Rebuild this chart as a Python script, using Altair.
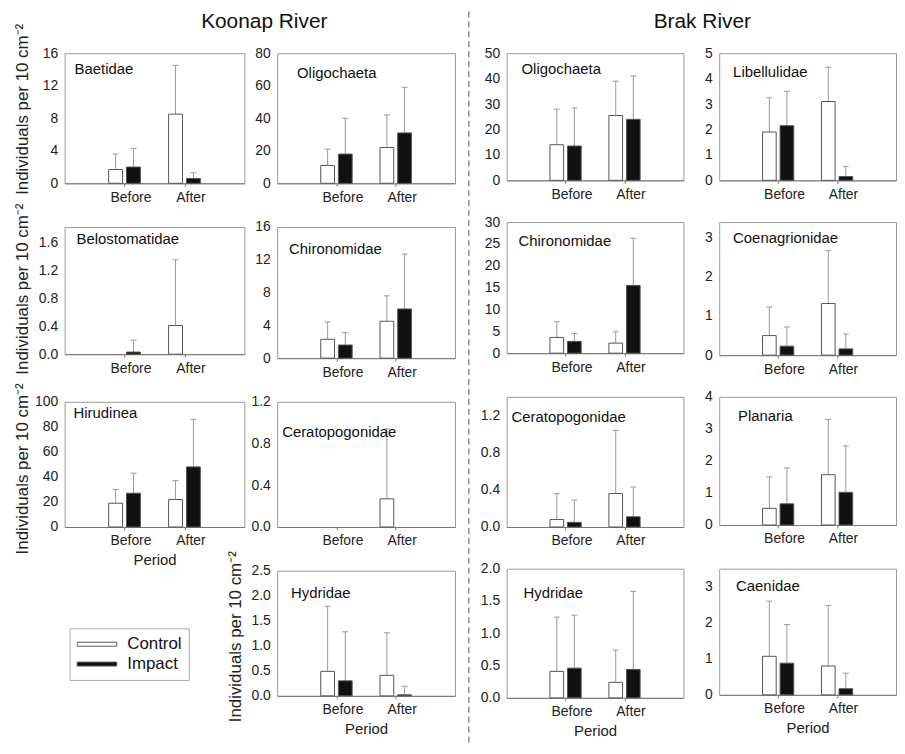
import altair as alt
import pandas as pd

# ---------------- data ----------------
TAXA = ["Baetidae", "Belostomatidae", "Hirudinea",
        "Oligochaeta", "Chironomidae", "Ceratopogonidae", "Hydridae",
        "Oligochaeta", "Chironomidae", "Ceratopogonidae", "Hydridae",
        "Libellulidae", "Coenagrionidae", "Planaria", "Caenidae"]
RIVER = ["Koonap"] * 7 + ["Brak"] * 8
PERIODS = ["Before", "After"]
GROUPS = ["Control", "Impact"]

CTRL_BEFORE     = [1.7, 0.0, 19, 11, 2.3, 0.0, 0.49, 14.0, 3.6, 0.08, 0.41, 1.90, 0.50, 0.52, 1.07]
CTRL_BEFORE_ERR = [3.6, 0.0, 30, 21, 4.4, 0.0, 1.79, 28.0, 7.2, 0.36, 1.25, 3.25, 1.23, 1.50, 2.60]
IMP_BEFORE      = [2.0, 0.03, 27, 18, 1.6, 0.0, 0.30, 13.5, 2.7, 0.05, 0.46, 2.15, 0.23, 0.66, 0.88]
IMP_BEFORE_ERR  = [4.3, 0.20, 43, 40, 3.1, 0.0, 1.28, 28.5, 4.5, 0.29, 1.28, 3.50, 0.72, 1.78, 1.95]
CTRL_AFTER      = [8.5, 0.41, 22, 22, 4.5, 0.27, 0.41, 25.5, 2.3, 0.36, 0.24, 3.10, 1.32, 1.57, 0.80]
CTRL_AFTER_ERR  = [14.5, 1.35, 37, 42, 7.6, 0.94, 1.26, 39.0, 4.9, 1.04, 0.74, 4.45, 2.67, 3.30, 2.48]
IMP_AFTER       = [0.6, 0.0, 48, 31, 6.0, 0.0, 0.02, 24.0, 15.5, 0.11, 0.44, 0.15, 0.16, 1.02, 0.17]
IMP_AFTER_ERR   = [1.3, 0.0, 86, 59, 12.7, 0.0, 0.19, 41.0, 26.3, 0.43, 1.65, 0.55, 0.54, 2.47, 0.60]

Y_MAX = [16, 1.82, 100, 80, 16, 1.2, 2.5, 50, 30, 1.4, 2.0, 5, 3.4, 4, 3.5]
Y_TICKS = [[0, 4, 8, 12, 16], [0, 0.4, 0.8, 1.2, 1.6], [0, 20, 40, 60, 80, 100],
           [0, 20, 40, 60, 80], [0, 4, 8, 12, 16], [0, 0.4, 0.8, 1.2], [0, 0.5, 1, 1.5, 2, 2.5],
           [0, 10, 20, 30, 40, 50], [0, 5, 10, 15, 20, 25, 30], [0, 0.4, 0.8, 1.2], [0, 0.5, 1, 1.5, 2],
           [0, 1, 2, 3, 4, 5], [0, 1, 2, 3], [0, 1, 2, 3, 4], [0, 1, 2, 3]]
Y_FMT = ["d", ".1f", "d", "d", "d", ".1f", ".1f", "d", "d", ".1f", ".1f", "d", "d", "d", "d"]

RIVER_TITLES = ["Koonap River", "Brak River"]
Y_TITLE = "Individuals per 10 cm\u207b\u00b2"
X_TITLE = "Period"

# ---------------- layout ----------------
FONT = "Liberation Sans"
PANEL_COL = [0, 0, 0, 1, 1, 1, 1, 2, 2, 2, 2, 3, 3, 3, 3]
PANEL_H = [131, 128, 126, 131, 132, 126, 126, 128, 132, 131, 130, 128, 134, 129, 127]
COL_W = [181, 179, 178, 178]
NAME_POS = [(10, 21), (12, 17), (9, 16), (20, 25), (12, 27), (5, 35), (14, 27),
            (15, 21), (12, 24), (5, 25), (17, 29), (14, 24), (14, 21), (19, 24), (17, 22)]
Y_TITLE_CY = {0: 56, 1: 62, 2: 67, 6: 66}
X_TITLE_PANELS = {2, 6, 10, 14}
LEGEND_PANEL = 2


def panel_frame(i):
    vals = {
        ("Before", "Control"): (CTRL_BEFORE[i], CTRL_BEFORE_ERR[i]),
        ("Before", "Impact"): (IMP_BEFORE[i], IMP_BEFORE_ERR[i]),
        ("After", "Control"): (CTRL_AFTER[i], CTRL_AFTER_ERR[i]),
        ("After", "Impact"): (IMP_AFTER[i], IMP_AFTER_ERR[i]),
    }
    rows = []
    for pi, period in enumerate(PERIODS):
        for gi, grp in enumerate(GROUPS):
            v, e = vals[(period, grp)]
            rows.append({"period": period, "group": grp, "slot": pi + 1,
                         "side": -1 if gi == 0 else 1, "value": v, "err": e})
    return pd.DataFrame(rows)


def make_panel(i):
    df = panel_frame(i)
    w = COL_W[PANEL_COL[i]]
    h = PANEL_H[i]
    xs = alt.Scale(domain=[0, 3], nice=False, zero=False)
    ys = alt.Scale(domain=[0, Y_MAX[i]], nice=False)
    xaxis = alt.Axis(values=[1, 2], labelExpr="datum.value == 1 ? 'Before' : 'After'",
                     grid=False, domain=True, domainColor="#777", ticks=True, tickSize=3,
                     tickColor="#777", labelFontSize=14, labelPadding=4, labelOffset=6,
                     labelFlush=False, titleFontSize=15, titlePadding=5,
                     titleFontWeight="normal")
    ykw = dict(values=Y_TICKS[i], format=Y_FMT[i], grid=False, domain=False, ticks=False,
               labelFontSize=14, labelPadding=7, titleFontSize=17,
               titleFontWeight="normal", titlePadding=3, minExtent=30, maxExtent=30)
    if i in Y_TITLE_CY:
        ykw["titleY"] = Y_TITLE_CY[i]
    yaxis = alt.Axis(**ykw)
    xt = X_TITLE if i in X_TITLE_PANELS else None
    yt = Y_TITLE if i in Y_TITLE_CY else None

    base = alt.Chart(df).transform_calculate(
        c="datum.slot + datum.side * 0.149",
        x0="datum.slot + datum.side * 0.149 - 0.116",
        x1="datum.slot + datum.side * 0.149 + 0.116",
        cap0="datum.slot + datum.side * 0.149 - 0.05",
        cap1="datum.slot + datum.side * 0.149 + 0.05",
        zero="0",
    )
    if i == LEGEND_PANEL:
        legend = alt.Legend(orient="none", legendX=5, legendY=228, title=None,
                            symbolType="M-1,-0.1H1V0.1H-1Z", symbolSize=1600,
                            symbolStrokeColor="#555", symbolStrokeWidth=1,
                            clipHeight=18, rowPadding=2, labelFontSize=17, labelFont=FONT,
                            labelColor="#111", labelOffset=10, strokeColor="#aaa",
                            padding=7)
    else:
        legend = None

    err = base.transform_filter("datum.err > datum.value").mark_rule(
        color="#999", strokeWidth=1).encode(
        x=alt.X("c:Q", scale=xs, axis=xaxis, title=xt),
        y=alt.Y("value:Q", scale=ys, axis=yaxis, title=yt),
        y2="err:Q",
    )
    caps = base.transform_filter("datum.err > datum.value").mark_rule(
        color="#999", strokeWidth=1).encode(
        x=alt.X("cap0:Q", scale=xs, axis=xaxis, title=xt),
        x2="cap1:Q",
        y=alt.Y("err:Q", scale=ys, axis=yaxis, title=yt),
    )
    bars = base.transform_filter("datum.value > 0").mark_rect(
        stroke="#555", strokeWidth=1).encode(
        x=alt.X("x0:Q", scale=xs, axis=xaxis, title=xt),
        x2="x1:Q",
        y=alt.Y("value:Q", scale=ys, axis=yaxis, title=yt),
        y2="zero:Q",
        fill=alt.Fill("group:N", scale=alt.Scale(domain=GROUPS, range=["white", "#111"]),
                      legend=legend),
    )
    dx, dy = NAME_POS[i]
    name = alt.Chart(pd.DataFrame({"name": [TAXA[i]]})).mark_text(
        align="left", baseline="alphabetic", fontSize=15, font=FONT, color="#111").encode(
        text="name:N", x=alt.value(dx), y=alt.value(dy))
    layers = [err, caps, bars, name]

    if i == 0:
        layers.append(alt.Chart(pd.DataFrame({"t": [RIVER_TITLES[0]]})).mark_text(
            align="center", baseline="top", fontSize=21, font=FONT, color="#111").encode(
            text="t:N", x=alt.value(201), y=alt.value(-42)))
    if i == 7:
        layers.append(alt.Chart(pd.DataFrame({"t": [RIVER_TITLES[1]]})).mark_text(
            align="center", baseline="top", fontSize=21, font=FONT, color="#111").encode(
            text="t:N", x=alt.value(197), y=alt.value(-42)))
        layers.append(alt.Chart(pd.DataFrame({"t": ["divider"]})).mark_rule(
            color="#555", strokeWidth=1, strokeDash=[6, 4]).encode(
            x=alt.value(-38), y=alt.value(-42), y2=alt.value(696)))
    return alt.layer(*layers).properties(width=w, height=h)


panels = [make_panel(i) for i in range(len(TAXA))]
placeholder = alt.Chart(pd.DataFrame({"a": [0]})).mark_point(opacity=0).encode(
    x=alt.value(0), y=alt.value(0)).properties(
    width=COL_W[0], height=PANEL_H[6], view=alt.ViewConfig(stroke="transparent"))

koonap = alt.concat(panels[0], panels[3], panels[1], panels[4], panels[2], panels[5],
                    placeholder, panels[6], columns=2, bounds="flush",
                    spacing={"row": 44, "column": 33}
                    ).resolve_scale(fill="independent").resolve_legend(fill="independent")
brak = alt.concat(panels[7], panels[11], panels[8], panels[12], panels[9], panels[13],
                  panels[10], panels[14], columns=2, bounds="flush",
                  spacing={"row": 42, "column": 36}
                  ).resolve_scale(fill="independent").resolve_legend(fill="independent")
chart = alt.hconcat(koonap, brak, spacing=12).resolve_scale(
    fill="independent").resolve_legend(fill="independent").properties(
    padding={"left": 5, "top": 0, "right": 0, "bottom": 0}
).configure_view(stroke="#999", strokeWidth=1).configure_axis(
    labelFont=FONT, titleFont=FONT, labelColor="#222", titleColor="#222"
)

chart.save("out.html", embed_options={"renderer": "svg", "actions": False})
